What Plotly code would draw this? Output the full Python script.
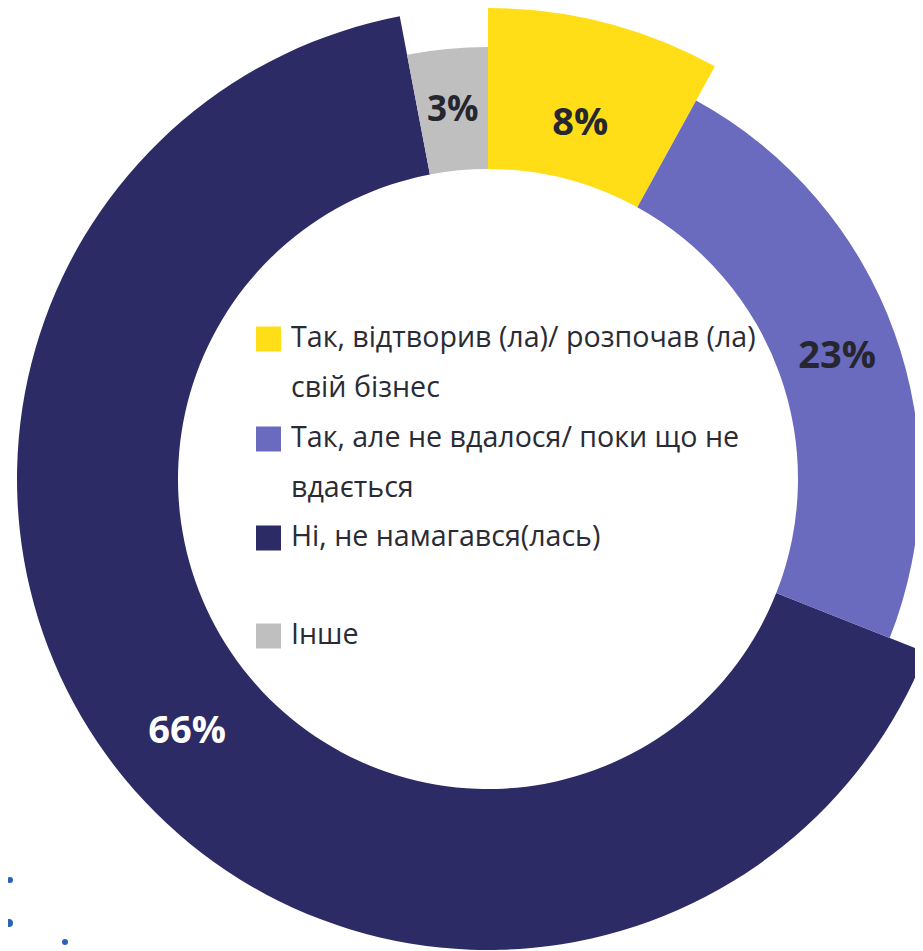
import plotly.graph_objects as go

# ---------------- data ----------------
labels = [
    "Так, відтворив (ла)/ розпочав (ла) свій бізнес",
    "Так, але не вдалося/ поки що не вдається",
    "Ні, не намагався(лась)",
    "Інше",
]
legend_lines = [
    ["Так, відтворив (ла)/ розпочав (ла)", "свій бізнес"],
    ["Так, але не вдалося/ поки що не", "вдається"],
    ["Ні, не намагався(лась)"],
    ["Інше"],
]
values = [8, 23, 66, 3]

# ---------------- style ----------------
colors = ["#FFDD17", "#6A6ABF", "#2D2B65", "#BFBFBF"]
text_colors = ["#26262F", "#26262F", "#FFFFFF", "#26262F"]
fill_ring = ["big", "small", "big", "small"]     # which ring draws each slice
label_ring = ["small", "small", "big", "text"]   # which ring carries each label

W, H = 965, 951            # figure a little wider than the window so the ring can overflow right
OFF = 8                    # page body margin
CX, CY = 488, 479          # centre in page pixels (from top-left)
R_IN = 310
RINGS = {"big": 471, "small": 432, "text": 409}


def px(x):
    return (x - OFF) / W


def py(y):
    return 1 - (y - OFF) / H


def domain(r):
    return dict(x=[max(0, px(CX - r)), min(1, px(CX + r))],
                y=[max(0, py(CY + r)), min(1, py(CY - r))])


fig = go.Figure()
for ring, r in RINGS.items():
    cols = [c if f == ring else "rgba(0,0,0,0)" for c, f in zip(colors, fill_ring)]
    tmpl = ["%{value}%" if lr == ring else "" for lr in label_ring]
    fig.add_trace(go.Pie(
        labels=labels, values=values, sort=False, direction="clockwise", rotation=0,
        hole=R_IN / r, domain=domain(r),
        marker=dict(colors=cols, line=dict(width=0)),
        texttemplate=tmpl, textinfo="text", textposition="inside",
        insidetextorientation="horizontal",
        insidetextfont=dict(family="Open Sans", size=38, color=text_colors, weight="bold"),
        showlegend=False, hoverinfo="skip" if ring == "text" else "label+percent",
    ))

# custom legend in the hole
shapes = []
annotations = []
row_y = [339, 439, 538, 636]
line_gap = 50
for i, lines in enumerate(legend_lines):
    y0 = row_y[i]
    shapes.append(dict(type="rect", xref="paper", yref="paper",
                       x0=px(256), x1=px(281), y0=py(y0 - 12.5), y1=py(y0 + 12.5),
                       fillcolor=colors[i], line=dict(width=0)))
    for k, t in enumerate(lines):
        annotations.append(dict(text=t, xref="paper", yref="paper",
                                x=px(289), y=py(y0 - 4 + k * line_gap),
                                xanchor="left", yanchor="middle", showarrow=False,
                                font=dict(family="Open Sans", size=28.6, color="#2B2B35")))

# decorative dots bottom-left
for (x, y, r) in [(10, 880, 3), (9, 923, 4), (65, 942, 3)]:
    shapes.append(dict(type="circle", xref="paper", yref="paper",
                       x0=px(x - r), x1=px(x + r), y0=py(y + r), y1=py(y - r),
                       fillcolor="#2A63B8", line=dict(width=0)))

fig.update_layout(
    width=W, height=H, margin=dict(l=0, r=0, t=0, b=0),
    paper_bgcolor="white", plot_bgcolor="white",
    shapes=shapes, annotations=annotations,
)
fig.write_html("out.html")
